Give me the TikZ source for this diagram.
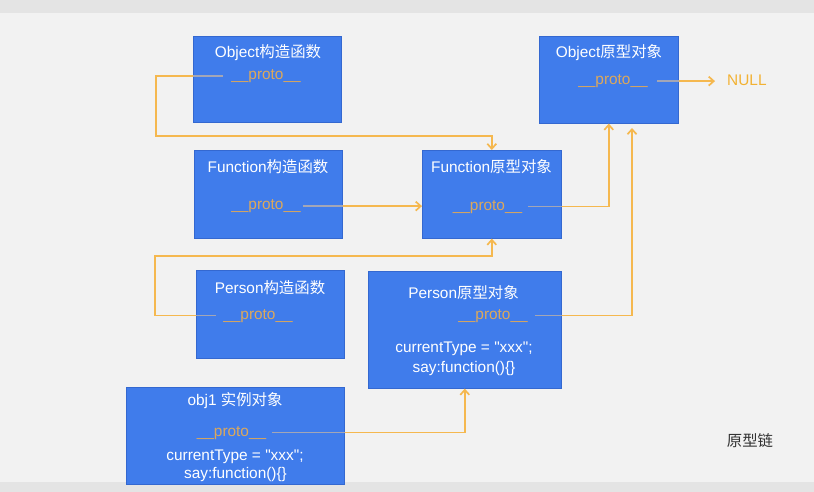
\documentclass[tikz,border=0pt]{standalone}
\usepackage{fontspec}
\newfontfamily\lat{Liberation Sans}
\newfontfamily\cjk{Noto Sans CJK SC}
\usetikzlibrary{arrows.meta}
\definecolor{bgmain}{HTML}{F2F2F2}
\definecolor{band}{HTML}{E4E4E4}
\definecolor{boxblue}{HTML}{407CEB}
\definecolor{boxedge}{HTML}{3468D0}
\definecolor{protocol}{HTML}{DCA85C}
\definecolor{connorange}{HTML}{F5B84F}
\definecolor{innergray}{HTML}{A3A6B6}
\definecolor{nullcol}{HTML}{F2B233}
\definecolor{darktext}{HTML}{333333}
\begin{document}
\begin{tikzpicture}[x=1pt,y=-1pt,
  box/.style={draw=boxedge,fill=boxblue,line width=0.6pt,anchor=north west,inner sep=0pt},
  ttl/.style={text=white,anchor=base,inner sep=0pt,font=\lat\fontsize{15.4}{18}\selectfont},
  pro/.style={text=protocol,anchor=base,inner sep=0pt,font=\lat\fontsize{15.4}{18}\selectfont},
  conn/.style={draw=connorange,line width=1.7pt},
  arr/.style={-{Straight Barb[length=5pt,width=9pt]}},
  inner/.style={draw=innergray,line width=1.7pt}]
\fill[bgmain] (0,0) rectangle (814,492);
\fill[band] (0,0) rectangle (814,13);
\fill[band] (0,482) rectangle (814,492);
\useasboundingbox (0,0) rectangle (814,492);

% boxes
\node[box,minimum width=148pt,minimum height=86pt] (objc) at (193,36) {};
\node[box,minimum width=139pt,minimum height=87pt] (oprot) at (539,36) {};
\node[box,minimum width=148pt,minimum height=88pt] (fc) at (194,150) {};
\node[box,minimum width=139pt,minimum height=88pt] (fprot) at (422,150) {};
\node[box,minimum width=148pt,minimum height=88pt] (pc) at (196,270) {};
\node[box,minimum width=193pt,minimum height=117pt] (pprot) at (368,271) {};
\node[box,minimum width=218pt,minimum height=97pt] (obj) at (126,387) {};

% texts
\node[ttl] (t1) at (268,58) {Object{\cjk 构造函数}};
\node[pro] (po1) at (266,79.5) {\_\_proto\_\_};
\node[ttl] (t2) at (609,58) {Object{\cjk 原型对象}};
\node[pro] (po7) at (613,84.5) {\_\_proto\_\_};
\node[anchor=base west,inner sep=0pt,text=nullcol,font=\lat\fontsize{15.4}{18}\selectfont] (null) at (727,85.5) {NULL};
\node[ttl] (t3) at (268,172) {Function{\cjk 构造函数}};
\node[pro] (po2) at (266,209.5) {\_\_proto\_\_};
\node[ttl] (t4) at (491.5,172) {Function{\cjk 原型对象}};
\node[pro] (po3) at (487.5,210) {\_\_proto\_\_};
\node[ttl] (t5) at (270,293) {Person{\cjk 构造函数}};
\node[pro] (po4) at (258,319) {\_\_proto\_\_};
\node[ttl] (t6) at (463.5,298.5) {Person{\cjk 原型对象}};
\node[pro] (po5) at (493,319) {\_\_proto\_\_};
\node[ttl] (c6a) at (464,352.5) {currentType = "xxx";};
\node[ttl] (c6b) at (464,372) {say:function()\{\}};
\node[ttl] (t7) at (235,405) {obj1 {\cjk 实例对象}};
\node[pro] (po6) at (231.5,436) {\_\_proto\_\_};
\node[ttl] (c7a) at (235,460.5) {currentType = "xxx";};
\node[ttl] (c7b) at (235.5,478.5) {say:function()\{\}};
\node[anchor=base,inner sep=0pt,text=darktext,font=\cjk\fontsize{15.4}{18}\selectfont] (chain) at (750,446) {原型链};

% helper coordinates
\coordinate (k1) at (156,136);
\coordinate (k2) at (155,256);
\coordinate (k3) at (632,128);

% connectors
\draw[conn,arr] ([xshift=-8pt]po1.west) -| (k1) -| (fprot.north);
\draw[conn,arr] ([xshift=2pt]po2.east) -- (po2.east -| fprot.west);
\draw[conn,arr] ([xshift=6pt]po3.east) -| (oprot.south);
\draw[conn,arr] ([xshift=-7pt]po4.west) -| (k2) -| (fprot.south);
\draw[conn,arr] ([xshift=7pt]po5.east) -| (k3);
\draw[conn,arr] ([xshift=6pt]po6.east) -| (pprot.south);
\draw[conn,arr] ([xshift=9pt]po7.east) -- ([xshift=-12pt]null.west |- po7.east);

% segments inside the boxes
\draw[inner] ([xshift=-8pt]po1.west) -- (po1.west -| objc.west);
\draw[inner] ([xshift=2pt]po2.east) -- (po2.east -| fc.east);
\draw[inner] ([xshift=6pt]po3.east) -- (po3.east -| fprot.east);
\draw[inner] ([xshift=-7pt]po4.west) -- (po4.west -| pc.west);
\draw[inner] ([xshift=7pt]po5.east) -- (po5.east -| pprot.east);
\draw[inner] ([xshift=6pt]po6.east) -- (po6.east -| obj.east);
\draw[inner] ([xshift=9pt]po7.east) -- (po7.east -| oprot.east);
\end{tikzpicture}
\end{document}
